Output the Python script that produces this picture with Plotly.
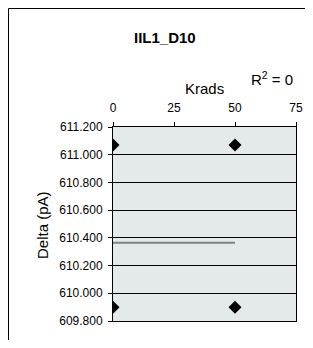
import plotly.graph_objects as go

krads = [0, 50, 0, 50]
delta = [611.07, 611.07, 609.9, 609.9]
trend_x = [0, 50]
trend_y = [610.365, 610.365]
x_ticks = [0, 25, 50, 75]
y_ticks = [609.8, 610.0, 610.2, 610.4, 610.6, 610.8, 611.0, 611.2]
y_tick_labels = ["609.800", "610.000", "610.200", "610.400", "610.600", "610.800", "611.000", "611.200"]

FONT = "Liberation Sans, Arial, sans-serif"
OFF = 8  # page body margin offset
W, H = 313 - 2 * OFF, 348 - 2 * OFF
L, R, T, B = 113 - OFF, 296 - OFF, 127 - OFF, 321 - OFF
PW, PH = R - L, B - T


def px(x):
    return (x - OFF - L) / PW


def py(y):
    return (B - (y - OFF)) / PH


fig = go.Figure()
fig.add_trace(go.Scatter(x=trend_x, y=trend_y, mode="lines",
                         line=dict(color="#808080", width=2), showlegend=False, hoverinfo="skip"))
fig.add_trace(go.Scatter(x=krads, y=delta, mode="markers",
                         marker=dict(symbol="diamond", color="black", size=10), showlegend=False))

fig.update_layout(
    width=W, height=H,
    margin=dict(l=L, r=W - R, t=T, b=H - B),
    paper_bgcolor="white",
    plot_bgcolor="#E4EAEA",
    font=dict(family=FONT, size=12, color="black"),
    xaxis=dict(side="top", range=[0, 75], tickvals=x_ticks, ticktext=[str(v) for v in x_ticks],
               ticks="outside", ticklen=4, tickcolor="black", showgrid=False, zeroline=False,
               showline=True, linecolor="black", linewidth=1, mirror=True, automargin=False,
               ticklabelstandoff=5,
               tickfont=dict(size=12, family=FONT)),
    yaxis=dict(range=[609.8, 611.2], tickvals=y_ticks, ticktext=y_tick_labels,
               ticks="outside", ticklen=4, tickcolor="black", showgrid=True, gridcolor="black", gridwidth=1,
               zeroline=False, showline=True, linecolor="black", linewidth=1, mirror=True, automargin=False,
               ticklabelstandoff=3,
               tickfont=dict(size=12, family=FONT)),
    annotations=[
        dict(text="<b>IIL1_D10</b>", xref="paper", yref="paper", x=px(165), y=py(37),
             showarrow=False, font=dict(size=15, family=FONT), xanchor="center", yanchor="middle"),
        dict(text="Krads", xref="paper", yref="paper", x=px(204), y=py(88),
             showarrow=False, font=dict(size=15, family=FONT), xanchor="center", yanchor="middle"),
        dict(text="Delta (pA)", xref="paper", yref="paper", x=px(42), y=py(225),
             showarrow=False, font=dict(size=15, family=FONT), xanchor="center", yanchor="middle",
             textangle=-90),
        dict(text="R<sup>2</sup> = 0", xref="paper", yref="paper", x=px(272), y=py(78),
             showarrow=False, font=dict(size=15, family=FONT), xanchor="center", yanchor="middle"),
    ],
    shapes=[
        dict(type="line", xref="paper", yref="paper",
             x0=px(8.5), x1=px(8.5), y0=py(H + 2 * OFF), y1=py(8.5),
             line=dict(color="black", width=1)),
        dict(type="line", xref="paper", yref="paper",
             x0=px(8.5), x1=px(W + 2 * OFF), y0=py(8.5), y1=py(8.5),
             line=dict(color="black", width=1)),
    ],
)

fig.write_html("out.html")
